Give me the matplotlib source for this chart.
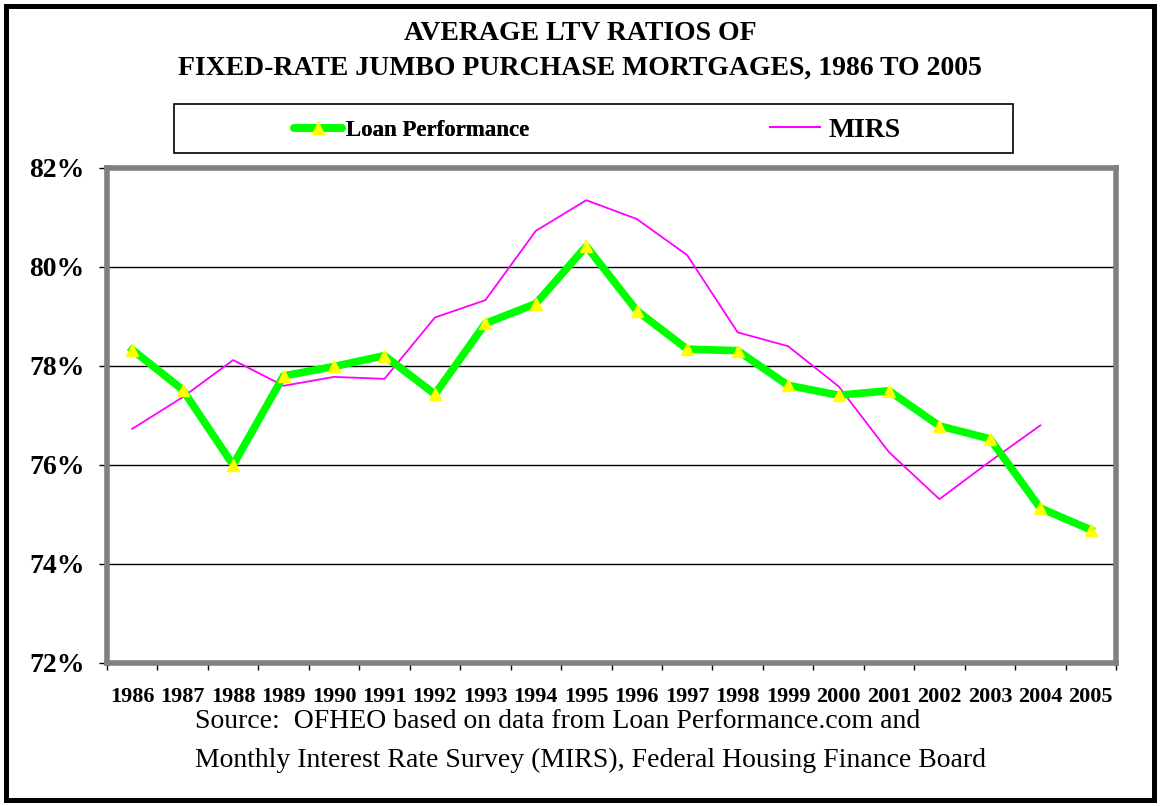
import numpy as np
import matplotlib.pyplot as plt
from matplotlib.patches import Rectangle
from matplotlib.lines import Line2D

plt.rcParams['font.family'] = 'Liberation Serif'

# data
years = [str(y) for y in range(1986, 2006)]
loan_perf = [78.33, 77.52, 76.00, 77.80, 77.99, 78.21, 77.43, 78.86, 79.26, 80.42,
             79.12, 78.34, 78.31, 77.61, 77.41, 77.50, 76.79, 76.53, 75.13, 74.69]
mirs = [76.73, 77.37, 78.12, 77.60, 77.78, 77.74, 78.98, 79.33, 80.73, 81.35,
        80.97, 80.24, 78.68, 78.40, 77.59, 76.26, 75.31, 76.07, 76.80, np.nan]
yticks = [72, 74, 76, 78, 80, 82]

fig = plt.figure(figsize=(11.6, 8.06), dpi=100)
# outer border
fig.add_artist(Rectangle((6/1160, 6/806), 1148/1160, 794/806, transform=fig.transFigure,
                         fill=False, edgecolor='black', lw=3.6))

ax = fig.add_axes([107/1160, 1-663/806, 1009/1160, 495/806])
x = np.arange(len(years))

ax.plot(x, mirs, color='#FF00FF', lw=1.3, zorder=3)
ax.plot(x, loan_perf, color='#00FF00', lw=5.5, marker='^', markersize=9,
        markerfacecolor='#FFFF00', markeredgecolor='#FFFF00', zorder=4)

ax.set_xlim(-0.5, len(years) - 0.5)
ax.set_ylim(72, 82)
ax.set_yticks(yticks)
ax.set_yticklabels([f'{v}%' for v in yticks], fontsize=20, fontweight='bold')
ax.set_xticks(x)
ax.set_xticklabels(years, fontsize=16, fontweight='bold')
ax.set_xticks(np.arange(-0.5, len(years)), minor=True)
ax.tick_params(axis='x', which='major', length=0, pad=17)
ax.tick_params(axis='x', which='minor', length=5, width=1, direction='out')
ax.tick_params(axis='y', length=6, width=1, direction='out', pad=10)
for v in yticks[1:-1]:
    ax.axhline(v, color='black', lw=1, zorder=1)
for s in ax.spines.values():
    s.set_color('#808080')
    s.set_linewidth(4)

fig.text(0.5, 1-33/806, 'AVERAGE LTV RATIOS OF', ha='center', va='center',
         fontsize=20, fontweight='bold')
fig.text(0.5, 1-68/806, 'FIXED-RATE JUMBO PURCHASE MORTGAGES, 1986 TO 2005',
         ha='center', va='center', fontsize=20, fontweight='bold')

# legend box
fig.add_artist(Rectangle((174/1160, 1-153/806), 839/1160, 49/806, transform=fig.transFigure,
                         fill=False, edgecolor='black', lw=1.2))
h1 = Line2D([], [], color='#00FF00', lw=5.5, marker='^', markersize=9,
            markerfacecolor='#FFFF00', markeredgecolor='#FFFF00', solid_capstyle='round')
h2 = Line2D([], [], color='#FF00FF', lw=1.5)
leg1 = fig.legend([h1], ['Loan Performance'], loc='center left',
                  bbox_to_anchor=(273/1160, 1-130/806), frameon=False,
                  handlelength=2.1, handletextpad=0.2, prop={'weight': 'bold', 'size': 16.5})
fig.add_artist(leg1)
fig.legend([h2], ['MIRS'], loc='center left', bbox_to_anchor=(745/1160, 1-130/806),
           frameon=False, handlelength=1.8, handletextpad=0.3,
           prop={'weight': 'bold', 'size': 20})

fig.text(195/1160, 1-722/806, 'Source:  OFHEO based on data from Loan Performance.com and',
         ha='left', va='center', fontsize=20)
fig.text(195/1160, 1-760/806, 'Monthly Interest Rate Survey (MIRS), Federal Housing Finance Board',
         ha='left', va='center', fontsize=20)

plt.savefig('out.png', dpi=100)
